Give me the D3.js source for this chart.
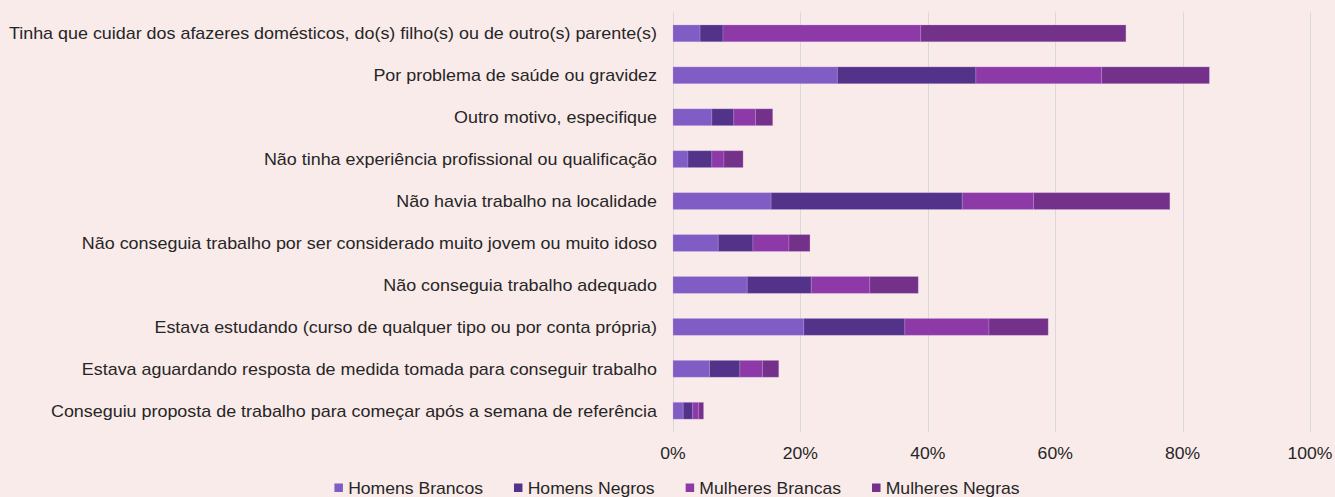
<!DOCTYPE html>
<html>
<head>
<meta charset="utf-8">
<script src="https://cdn.jsdelivr.net/npm/d3@7"></script>
<style>
  html, body { margin: 0; padding: 0; background: #f9ebea; }
  svg { display: block; font-family: "Liberation Sans", Arial, sans-serif; }
  .grid line { stroke: #d9d9d9; stroke-width: 1; }
  .tick-label { font-size: 16px; fill: #262626; }
  .cat-label { font-size: 16px; fill: #262626; }
  .legend-label { font-size: 16px; fill: #262626; }
</style>
</head>
<body>
<svg width="1335" height="497"></svg>
<script>
//  Categories, top to bottom
const categories = [
    'Tinha que cuidar dos afazeres domésticos, do(s) filho(s) ou de outro(s) parente(s)',
    'Por problema de saúde ou gravidez',
    'Outro motivo, especifique',
    'Não tinha experiência profissional ou qualificação',
    'Não havia trabalho na localidade',
    'Não conseguia trabalho por ser considerado muito jovem ou muito idoso',
    'Não conseguia trabalho adequado',
    'Estava estudando (curso de qualquer tipo ou por conta própria)',
    'Estava aguardando resposta de medida tomada para conseguir trabalho',
    'Conseguiu proposta de trabalho para começar após a semana de referência'
];

const seriesNames = ['Homens Brancos', 'Homens Negros', 'Mulheres Brancas', 'Mulheres Negras'];
const seriesColors = ['#805dc4', '#53328a', '#8d3aa8', '#74318a'];

//  Shares (fractions) per series, same order as categories
const homensBrancos   = [0.0425, 0.258, 0.061, 0.0235, 0.154, 0.071, 0.1165, 0.2055, 0.0575, 0.016];
const homensNegros    = [0.036, 0.2175, 0.0345, 0.0375, 0.300, 0.0545, 0.1005, 0.1585, 0.0475, 0.015];
const mulheresBrancas = [0.3105, 0.1975, 0.034, 0.019, 0.112, 0.0565, 0.092, 0.132, 0.0355, 0.0095];
const mulheresNegras  = [0.322, 0.169, 0.027, 0.030, 0.214, 0.033, 0.076, 0.093, 0.0255, 0.0075];

const xTicks = [0, 0.2, 0.4, 0.6, 0.8, 1.0];


const svg = d3.select('svg');
const width = 1335;

const rows = categories.map((c, i) => ({
    category: c,
    'Homens Brancos': homensBrancos[i],
    'Homens Negros': homensNegros[i],
    'Mulheres Brancas': mulheresBrancas[i],
    'Mulheres Negras': mulheresNegras[i]
}));

const stacked = d3.stack().keys(seriesNames)(rows);

//======================================
//  Scales
//======================================
const xScale = d3.scaleLinear()
    .domain([0, 1])
    .range([673, 1310]);

const yScale = d3.scaleBand()
    .domain(categories)
    .range([12.4, 431.7])
    .paddingInner(0.6)
    .paddingOuter(0.3);

const color = d3.scaleOrdinal().domain(seriesNames).range(seriesColors);

//======================================
//  Gridlines
//======================================
svg.append('g')
    .attr('class', 'grid')
    .selectAll('line')
    .data(xTicks)
    .enter()
    .append('line')
    .attr('x1', d => Math.round(xScale(d)) + 0.5)
    .attr('x2', d => Math.round(xScale(d)) + 0.5)
    .attr('y1', 12.4)
    .attr('y2', 432);

//======================================
//  Bars
//======================================
const layers = svg.append('g')
    .attr('id', 'bars')
    .selectAll('g')
    .data(stacked)
    .enter()
    .append('g')
    .attr('fill', d => color(d.key));

layers.selectAll('rect')
    .data(d => d)
    .enter()
    .append('rect')
    .attr('x', d => xScale(d[0]))
    .attr('y', d => yScale(d.data.category))
    .attr('width', d => xScale(d[1]) - xScale(d[0]))
    .attr('height', yScale.bandwidth())
    .attr('stroke', '#c9a8e6')
    .attr('stroke-opacity', 0.35)
    .attr('stroke-width', 0.8);

//======================================
//  X tick labels
//======================================
svg.append('g')
    .selectAll('text')
    .data(xTicks)
    .enter()
    .append('text')
    .attr('class', 'tick-label')
    .attr('text-anchor', 'middle')
    .attr('transform', d => `translate(${xScale(d)}, 459) scale(1.1, 1)`)
    .text(d => `${Math.round(d * 100)}%`);

//======================================
//  Category labels
//======================================
svg.append('g')
    .selectAll('text')
    .data(categories)
    .enter()
    .append('text')
    .attr('class', 'cat-label')
    .attr('text-anchor', 'end')
    .attr('transform', d => `translate(657, ${yScale(d) + yScale.bandwidth() / 2 + 5.8}) scale(1.12, 1)`)
    .text(d => d);

//======================================
//  Legend
//======================================
const legend = svg.append('g').attr('id', 'legend');
const items = legend.selectAll('g')
    .data(seriesNames)
    .enter()
    .append('g');

items.append('rect')
    .attr('width', 8.5)
    .attr('height', 8.5)
    .attr('y', 483.5)
    .attr('fill', d => color(d));

items.append('text')
    .attr('class', 'legend-label')
    .attr('transform', 'translate(13.7, 493.5) scale(1.1, 1)')
    .text(d => d);

//  lay out legend items side by side
let offsets = [];
let cursor = 0;
items.each(function() {
    const w = 13.7 + this.querySelector('text').getComputedTextLength() * 1.1;
    offsets.push(cursor);
    cursor += w + 31;
});
const legendWidth = cursor - 31;
const legendStart = 677 - legendWidth / 2;
items.attr('transform', (d, i) => `translate(${legendStart + offsets[i]}, 0)`);
</script>
</body>
</html>
